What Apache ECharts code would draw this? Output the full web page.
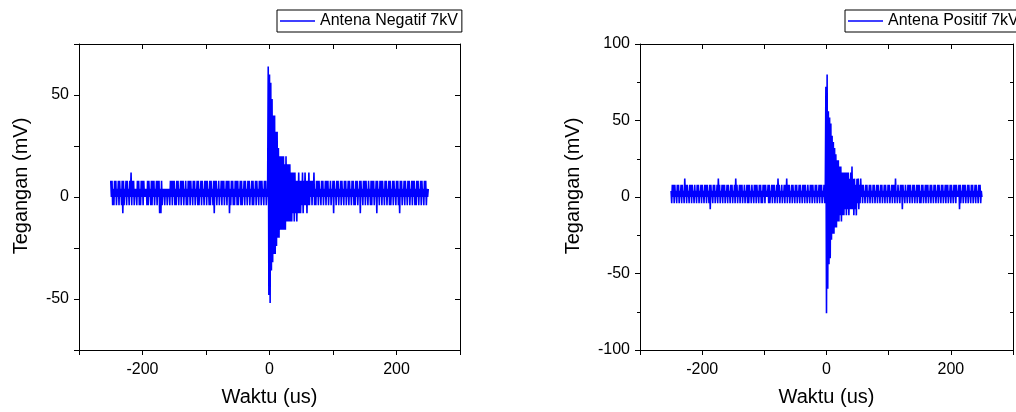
<!DOCTYPE html>
<html>
  <head>
    <meta charset="UTF-8" />
    <title>Antena 7kV</title>
    <script src="https://cdn.jsdelivr.net/npm/echarts@6/dist/echarts.min.js"></script>
    <style>
      html, body { margin: 0; padding: 0; background: #fff; }
      #chart { width: 1016px; height: 412px; }
    </style>
  </head>
  <body>
    <div id="chart"></div>
    <script>
      // sample times: one sample per microsecond from -250 us
      var timeStartUs = -250;
      var timeStepUs = 1;

      var xTickLabels = [-200, 0, 200];
      var yTickLabelsNeg = [-50, 0, 50];
      var yTickLabelsPos = [-100, -50, 0, 50, 100];
      var seriesNames = ['Antena Negatif 7kV', 'Antena Positif 7kV'];

      // Antena Negatif 7kV, mV (t = -250 .. 250 us)
      var negatifMv = [
        8,0,8,-4,4,-4,8,0,8,-4,
        4,0,8,-4,8,0,4,-4,8,-8,
        8,-4,4,0,8,-4,8,0,4,-4,
        8,0,12,-4,8,0,8,-4,4,0,
        4,-4,8,0,8,-4,4,-4,8,0,
        8,-4,8,0,4,0,4,-4,8,-4,
        8,0,4,-4,8,-4,8,0,8,-4,
        4,0,8,-4,8,0,8,-8,4,-8,
        8,-4,4,0,4,-4,4,0,4,-4,
        4,0,4,-4,8,0,8,-4,8,0,
        8,-4,4,-4,8,0,8,-4,4,0,
        8,-4,8,0,8,-4,4,0,8,-4,
        4,-4,8,0,8,-4,8,0,4,-4,
        8,0,8,-4,4,0,8,-4,8,-4,
        4,0,8,-4,8,0,4,-4,8,0,
        8,-4,8,0,4,-4,8,-4,8,0,
        4,-4,8,-8,8,0,8,-4,4,0,
        8,-4,4,0,8,-4,8,0,8,-4,
        4,0,8,-4,8,0,8,-8,4,-4,
        8,0,8,-4,4,-4,8,0,8,-4,
        8,-4,4,0,8,-4,8,-4,4,0,
        8,-4,8,0,4,-4,8,0,8,-4,
        4,0,8,-4,8,-4,4,0,8,-4,
        8,0,4,-4,8,0,8,-4,8,0,
        4,-4,8,0,8,-4,4,0,
        // pulse, t = -2 .. 75
        64,-48,60,-52,56,-36,48,-32,40,-28,
        40,-28,32,-24,32,-20,24,-20,20,-16,
        20,-16,20,-16,20,-16,16,-16,20,-12,
        16,-12,16,-12,16,-12,12,-12,12,-8,
        12,-12,12,-8,8,-12,8,-8,12,-8,
        8,-8,8,-4,12,-8,8,-4,12,-4,
        8,-8,8,-4,12,-4,8,0,8,-4,
        8,0,12,-4,4,-4,8,0,
        // t = 76 .. 250
        8,-4,8,0,4,-4,8,0,8,-4,
        4,0,8,-4,8,0,8,-4,4,0,
        8,-4,4,0,8,-8,8,0,4,-4,
        8,0,8,-4,4,0,8,-4,8,0,
        4,-4,8,0,8,-4,4,0,8,-4,
        8,0,4,-4,8,0,8,-4,4,-4,
        8,0,8,-4,4,0,8,-8,8,0,
        4,-4,8,0,8,-4,8,0,4,-4,
        8,0,4,-4,8,-4,8,0,8,-4,
        4,0,8,-8,8,0,4,-4,8,0,
        8,-4,8,0,4,-4,8,0,8,-4,
        4,0,8,-4,8,-4,4,0,8,-4,
        8,0,4,-4,8,0,8,-4,4,-8,
        8,0,8,-4,4,0,8,-4,8,0,
        4,-4,8,0,8,-4,4,0,8,-4,
        8,0,8,-4,4,-4,8,0,8,-4,
        4,0,8,-4,8,0,4,-4,8,0,
        8,-4,4,0,4
      ];

      // Antena Positif 7kV, mV (t = -250 .. 250 us)
      var positifMv = [
        4,-4,8,0,8,-4,8,0,4,-4,
        8,0,8,-4,4,0,8,-4,8,0,
        4,-4,12,0,8,-4,8,0,4,-4,
        8,0,8,-4,8,0,4,-4,8,0,
        4,-4,8,0,8,-4,4,0,8,-4,
        8,0,4,-4,8,0,8,-4,8,0,
        4,-4,8,-8,8,0,4,-4,8,0,
        8,-4,4,0,8,-4,12,0,8,-4,
        4,0,8,-4,8,0,8,-4,4,0,
        8,-4,8,0,4,-4,8,0,8,-4,
        4,0,8,-4,12,0,8,-4,4,0,
        8,-4,8,0,8,-4,4,0,8,-4,
        4,0,8,-4,8,-4,8,0,4,-4,
        8,0,4,-4,8,0,8,-4,8,0,
        4,-4,8,0,8,-4,4,-4,8,0,
        8,-4,8,0,4,0,8,-4,8,-4,
        4,0,8,-4,8,0,8,-4,4,0,
        8,-4,12,0,8,-4,4,0,8,-4,
        4,0,8,-4,8,0,12,-4,8,0,
        8,-4,4,0,8,-4,8,0,4,-4,
        8,0,8,-4,4,0,8,-4,8,0,
        4,-4,8,0,8,-4,8,0,4,-4,
        8,0,4,-4,8,0,8,-4,8,0,
        4,-4,8,0,8,-4,4,0,8,-4,
        8,0,8,-4,4,0,8,-4,0,
        // pulse, t = -1 .. 56
        72,-76,80,-60,56,-44,52,-40,48,-28,
        40,-24,36,-24,32,-20,28,-20,24,-16,
        24,-16,20,-12,20,-16,16,-12,16,-12,
        16,-8,16,-12,16,-8,16,-12,12,-8,
        16,-8,20,-8,12,-12,12,-8,8,-12,
        12,-4,12,-8,8,-4,12,0,
        // t = 57 .. 250
        8,-4,8,0,4,-4,8,0,8,-4,
        4,0,8,-4,8,0,4,-4,8,0,
        8,-4,4,0,8,-4,8,0,4,-4,
        8,0,8,-4,4,0,8,-4,8,0,
        4,-4,8,0,8,-4,4,0,8,-4,
        8,0,8,-4,12,0,4,-4,8,0,
        4,-4,8,0,8,-8,8,0,4,-4,
        8,0,4,-4,8,0,8,-4,8,0,
        4,-4,8,0,8,-4,4,0,8,-4,
        8,0,8,-4,4,-4,8,0,8,-4,
        4,0,8,-4,8,0,8,-4,4,0,
        8,-4,8,0,4,-4,8,0,8,-4,
        4,0,8,-4,8,0,4,-4,8,0,
        8,-4,4,0,8,-4,8,0,8,-4,
        4,0,8,-4,8,0,4,-4,8,0,
        8,-4,8,0,4,0,8,-8,8,-4,
        4,0,8,-4,8,0,8,-4,4,0,
        8,-4,8,0,4,-4,8,0,8,-4,
        4,0,8,-4,8,0,4,-4,8,0,
        8,-4,4,0
      ];

      function toPoints(values) {
        return values.map(function (v, i) { return [timeStartUs + i * timeStepUs, v]; });
      }

      var font = '"Liberation Sans", Arial, sans-serif';
      var black = '#000';
      var blue = '#0000ff';

      function xAxes(g) {
        return [{
          type: 'value', gridIndex: g, position: 'bottom',
          min: -300, max: 300, interval: 100,
          axisLine: { show: true, onZero: false, lineStyle: { color: black, width: 1 } },
          axisTick: { show: true, length: 5, lineStyle: { color: black } },
          axisLabel: {
            margin: 12, fontSize: 16, fontFamily: font, color: black,
            formatter: function (v) { return xTickLabels.indexOf(v) >= 0 ? String(v) : ''; }
          },
          splitLine: { show: false },
          name: 'Waktu (us)', nameLocation: 'middle', nameGap: 37,
          nameTextStyle: { fontSize: 20, fontFamily: font, color: black }
        }, {
          type: 'value', gridIndex: g, position: 'top',
          min: -300, max: 300, interval: 100,
          axisLine: { show: true, onZero: false, lineStyle: { color: black, width: 1 } },
          axisTick: { show: true, inside: true, length: 5, lineStyle: { color: black } },
          axisLabel: { show: false },
          splitLine: { show: false }
        }];
      }

      function yAxes(g, min, max, interval, labels, nameGap, minor) {
        return [{
          type: 'value', gridIndex: g, position: 'left',
          min: min, max: max, interval: interval,
          axisLine: { show: true, onZero: false, lineStyle: { color: black, width: 1 } },
          axisTick: { show: true, length: 5, lineStyle: { color: black } },
          minorTick: { show: minor, splitNumber: 2, length: 3, lineStyle: { color: black } },
          axisLabel: {
            margin: 10, fontSize: 16, fontFamily: font, color: black,
            formatter: function (v) { return labels.indexOf(v) >= 0 ? String(v) : ''; }
          },
          splitLine: { show: false },
          name: 'Tegangan (mV)', nameLocation: 'middle', nameRotate: 90, nameGap: nameGap,
          nameTextStyle: { fontSize: 20, fontFamily: font, color: black, padding: [0, 0, 0, 22] }
        }, {
          type: 'value', gridIndex: g, position: 'right',
          min: min, max: max, interval: interval,
          axisLine: { show: true, onZero: false, lineStyle: { color: black, width: 1 } },
          axisTick: { show: true, inside: true, length: 5, lineStyle: { color: black } },
          minorTick: { show: minor, splitNumber: 2, length: 3, lineStyle: { color: black } },
          axisLabel: { show: false },
          splitLine: { show: false }
        }];
      }

      function legendBox(name, left) {
        return {
          data: [{ name: name, icon: 'rect' }], left: left, top: 10, orient: 'horizontal',
          borderColor: black, borderWidth: 1, borderRadius: 0,
          padding: [3, 4, 3, 3], itemWidth: 35, itemHeight: 1.4,
          textStyle: { fontSize: 16, fontFamily: font, color: black, lineHeight: 16 },
          selectedMode: false
        };
      }

      var chart = echarts.init(document.getElementById('chart'), null, { renderer: 'canvas' });

      chart.setOption({
        animation: false,
        backgroundColor: '#fff',
        grid: [
          { left: 79, top: 44, width: 381, height: 308 },
          { left: 640, top: 44, width: 381, height: 308 }
        ],
        legend: [legendBox(seriesNames[0], 277), legendBox(seriesNames[1], 845)],
        xAxis: xAxes(0).concat(xAxes(1)),
        yAxis: yAxes(0, -75, 75, 25, yTickLabelsNeg, 48, false)
          .concat(yAxes(1, -100, 100, 50, yTickLabelsPos, 57, true)),
        series: [{
          name: seriesNames[0], type: 'line', xAxisIndex: 0, yAxisIndex: 0,
          data: toPoints(negatifMv), symbol: 'none', sampling: null,
          lineStyle: { color: blue, width: 1.6 }, itemStyle: { color: blue }
        }, {
          name: seriesNames[1], type: 'line', xAxisIndex: 2, yAxisIndex: 2,
          data: toPoints(positifMv), symbol: 'none', sampling: null,
          lineStyle: { color: blue, width: 1.6 }, itemStyle: { color: blue }
        }]
      });
    </script>
  </body>
</html>
